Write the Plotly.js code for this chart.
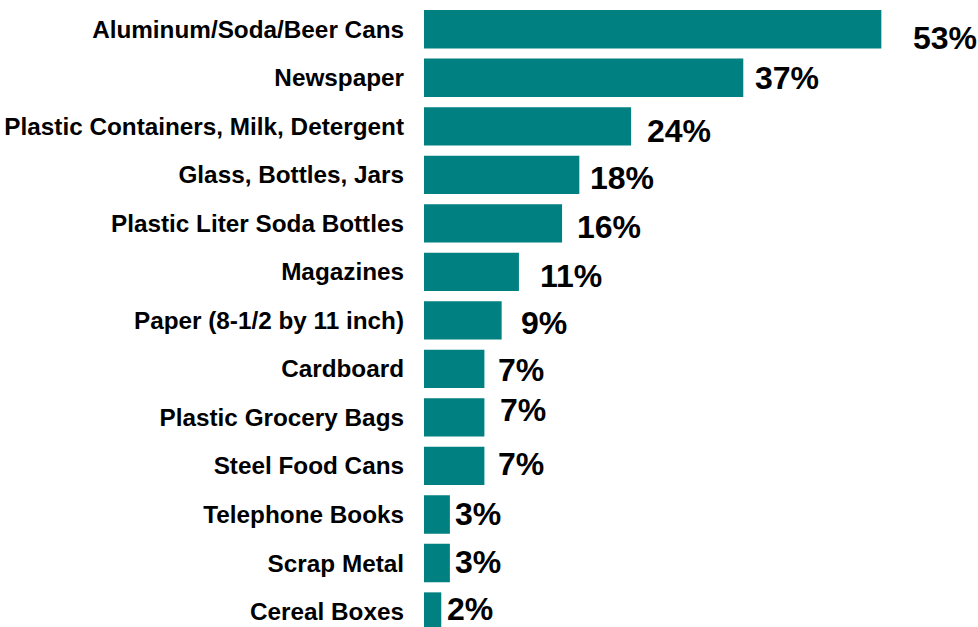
<!DOCTYPE html>
<html>
<head>
<meta charset="utf-8">
<script src="https://cdn.plot.ly/plotly-3.0.1.min.js"></script>
<style>
html, body { margin: 0; padding: 0; background: #ffffff; }
#chart { width: 978px; height: 627px; }
</style>
</head>
<body>
<div id="chart"></div>
<script>
// Data
var categories = [
  "Aluminum/Soda/Beer Cans",
  "Newspaper",
  "Plastic Containers, Milk, Detergent",
  "Glass, Bottles, Jars",
  "Plastic Liter Soda Bottles",
  "Magazines",
  "Paper (8-1/2 by 11 inch)",
  "Cardboard",
  "Plastic Grocery Bags",
  "Steel Food Cans",
  "Telephone Books",
  "Scrap Metal",
  "Cereal Boxes"
];
var values = [53, 37, 24, 18, 16, 11, 9, 7, 7, 7, 3, 3, 2];
var valueLabels = ["53%", "37%", "24%", "18%", "16%", "11%", "9%", "7%", "7%", "7%", "3%", "3%", "2%"];

// Label placement styling (pixel offsets from bar end / bar centre)
var labelDx = [30, 10, 14, 9, 13, 19, 17, 12, 14, 12, 3, 3, 4];
var labelDy = [-8.75, -0.3, -5, -3.5, -3.4, -4.5, -2.5, -0.7, 7, 1.8, 0.6, 0.8, 2.3];

var barColor = "#008080";

var trace = {
  type: "bar",
  orientation: "h",
  x: values,
  y: categories,
  marker: { color: barColor, line: { width: 0 } },
  width: 0.79,
  hoverinfo: "none",
  showlegend: false
};

var annotations = values.map(function (v, i) {
  return {
    x: v,
    y: categories[i],
    xref: "x",
    yref: "y",
    text: valueLabels[i],
    showarrow: false,
    xanchor: "left",
    yanchor: "middle",
    xshift: labelDx[i],
    yshift: labelDy[i],
    font: { family: "Liberation Sans, Arial, sans-serif", size: 32, color: "#000000", weight: "bold" }
  };
});

var layout = {
  width: 978,
  height: 627,
  margin: { l: 424, r: 0, t: 0, b: 0, pad: 0 },
  paper_bgcolor: "#ffffff",
  plot_bgcolor: "#ffffff",
  bargap: 0.21,
  xaxis: {
    range: [0, 64.2],
    visible: false,
    showgrid: false,
    zeroline: false,
    fixedrange: true
  },
  yaxis: {
    type: "category",
    range: [12.319, -0.603],
    showgrid: false,
    zeroline: false,
    showline: false,
    ticks: "",
    ticklabelstandoff: 19,
    tickfont: { family: "Liberation Sans, Arial, sans-serif", size: 24.3, color: "#000000", weight: "bold" },
    fixedrange: true
  },
  annotations: annotations,
  font: { family: "Liberation Sans, Arial, sans-serif" }
};

Plotly.newPlot("chart", [trace], layout, { displayModeBar: false, staticPlot: true });
</script>
</body>
</html>
